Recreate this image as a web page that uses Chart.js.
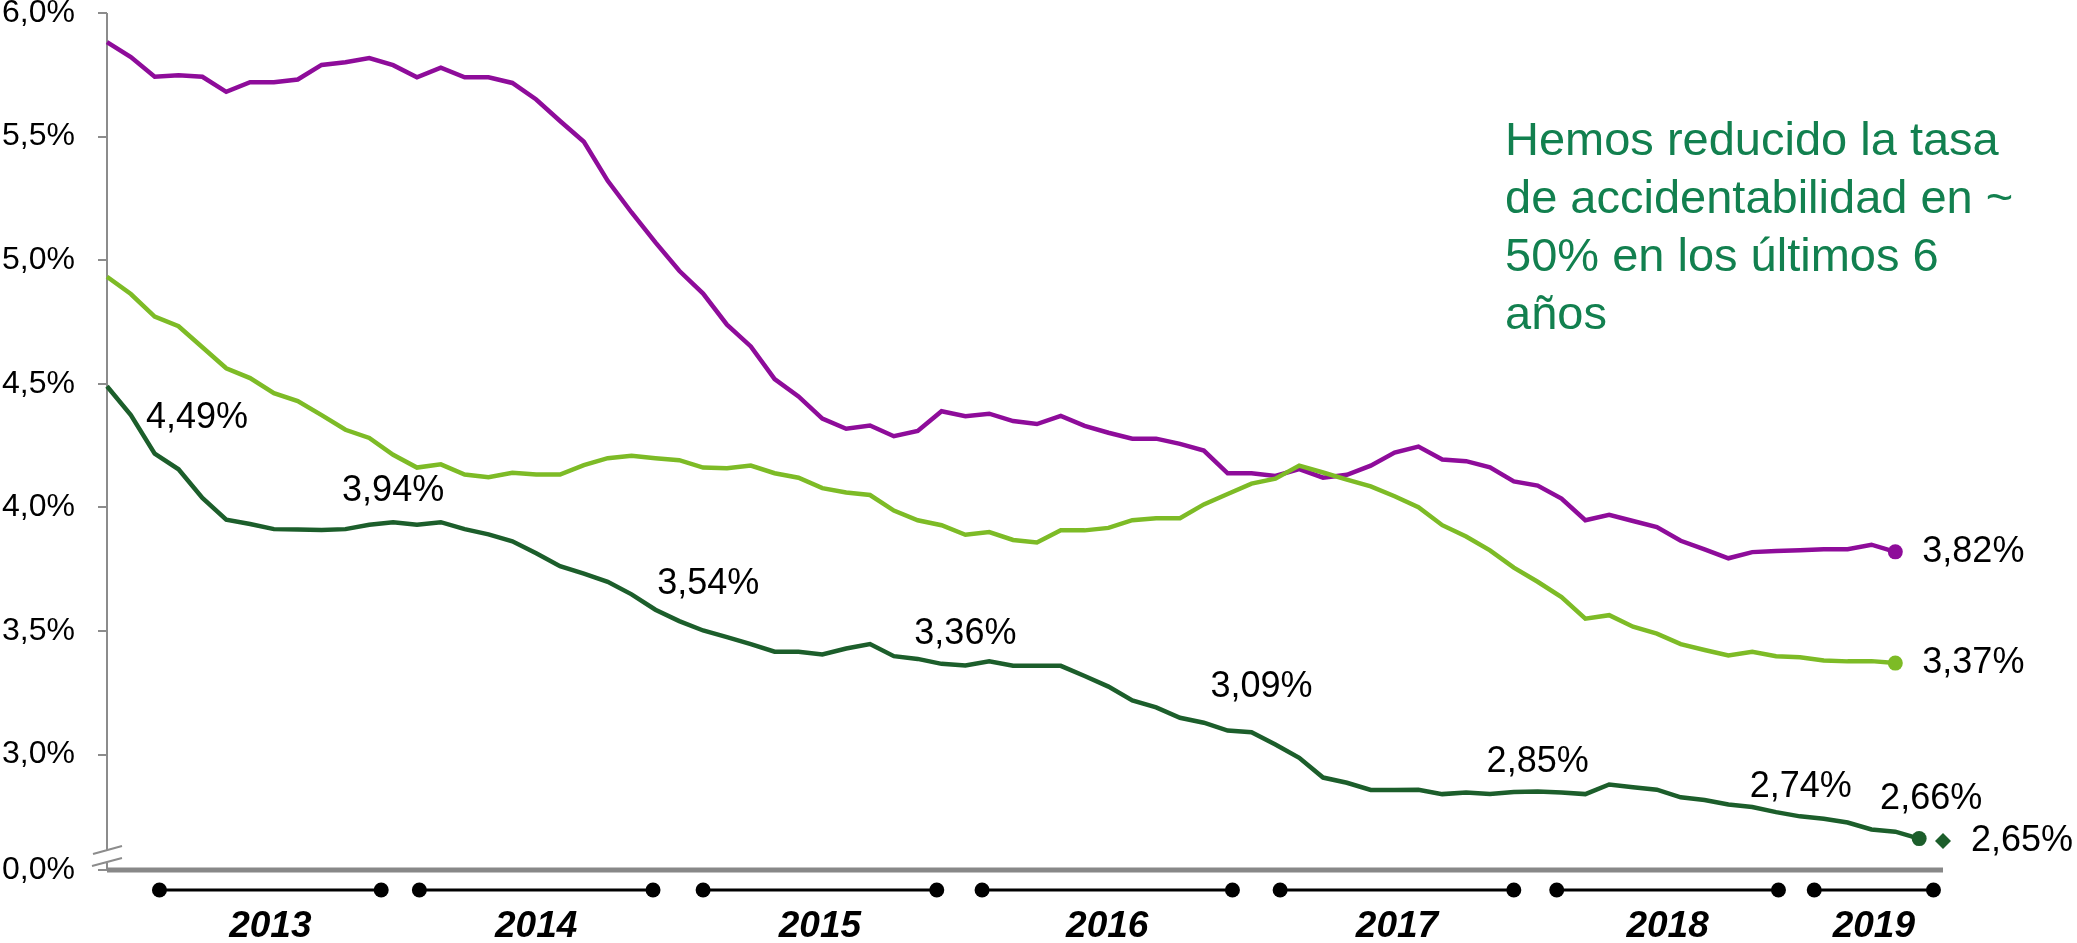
<!DOCTYPE html>
<html>
<head>
<meta charset="utf-8">
<script src="https://cdn.jsdelivr.net/npm/chart.js@4.4.1/dist/chart.umd.min.js"></script>
<style>
  html, body { margin: 0; padding: 0; background: #fff; }
  #wrap { position: relative; width: 2077px; height: 943px; }
  #note {
    position: absolute; left: 1505px; top: 110px;
    font: 47px/58px "Liberation Sans", Arial, sans-serif;
    color: #12804f; white-space: nowrap;
  }
</style>
</head>
<body>
<div id="wrap">
  <canvas id="chart" width="2077" height="943"></canvas>
  <div id="note">Hemos reducido la tasa<br>de accidentabilidad en ~<br>50% en los últimos 6<br>años</div>
</div>
<script>
// Monthly accident rate (%), first point = Dec 2012
const purpleRate = [5.882,5.822,5.742,5.748,5.742,5.681,5.720,5.720,5.731,5.790,
  5.801,5.818,5.789,5.740,5.779,5.740,5.740,5.717,5.650,5.563,
  5.479,5.321,5.193,5.072,4.957,4.865,4.739,4.651,4.519,4.449,
  4.359,4.318,4.331,4.288,4.309,4.389,4.369,4.379,4.349,4.337,
  4.370,4.330,4.302,4.278,4.278,4.257,4.230,4.138,4.138,4.127,
  4.155,4.120,4.132,4.169,4.222,4.246,4.194,4.187,4.162,4.105,
  4.088,4.036,3.948,3.970,3.945,3.920,3.865,3.830,3.794,3.819,
  3.824,3.827,3.831,3.831,3.849,3.820];

const lightGreenRate = [4.933,4.863,4.772,4.733,4.648,4.563,4.523,4.462,4.430,4.373,
  4.314,4.281,4.213,4.161,4.174,4.133,4.122,4.140,4.133,4.133,
  4.171,4.199,4.209,4.199,4.191,4.161,4.158,4.169,4.138,4.120,
  4.078,4.060,4.050,3.987,3.948,3.928,3.889,3.900,3.868,3.858,
  3.907,3.907,3.917,3.948,3.956,3.956,4.012,4.054,4.096,4.116,
  4.169,4.141,4.112,4.085,4.045,4.001,3.928,3.882,3.826,3.756,
  3.699,3.637,3.550,3.564,3.517,3.489,3.447,3.423,3.401,3.416,
  3.398,3.394,3.381,3.377,3.378,3.370];

const darkGreenRate = [4.490,4.373,4.217,4.154,4.038,3.950,3.933,3.912,3.910,3.908,
  3.912,3.930,3.940,3.930,3.940,3.912,3.891,3.863,3.814,3.762,
  3.732,3.699,3.648,3.586,3.540,3.502,3.475,3.447,3.416,3.416,
  3.405,3.429,3.447,3.398,3.387,3.367,3.360,3.377,3.359,3.359,
  3.359,3.318,3.275,3.219,3.191,3.149,3.129,3.097,3.090,3.041,
  2.987,2.907,2.886,2.857,2.857,2.858,2.840,2.847,2.840,2.849,
  2.851,2.847,2.840,2.879,2.868,2.858,2.827,2.816,2.798,2.788,
  2.767,2.750,2.740,2.725,2.697,2.688,2.660];

const targetRate = 2.65;            // diamond, one month after the last dark green point
const darkLabelIdx = [0, 12, 24, 36, 48, 60, 72, 76];

// y axis: broken axis, bottom tick stands for 0,0%
const axisBreakValue = 2.533;
const yTickValues = [axisBreakValue, 3.0, 3.5, 4.0, 4.5, 5.0, 5.5, 6.0];
const yTickLabels = ['0,0%', '3,0%', '3,5%', '4,0%', '4,5%', '5,0%', '5,5%', '6,0%'];

// year brackets under the axis, in month units
const years = ['2013', '2014', '2015', '2016', '2017', '2018', '2019'];
const yearFrom = [2.2, 13.1, 25.0, 36.7, 49.2, 60.8, 71.6];
const yearTo = [11.5, 22.9, 34.8, 47.2, 59.0, 70.1, 76.6];

const FONT = '"Liberation Sans", Arial, sans-serif';
const PURPLE = '#8e0c9a';
const LIGHT = '#7dbb26';
const DARK = '#1c5e2b';

const toPoints = arr => arr.map((v, i) => ({ x: i, y: v }));
const fmt = v => v.toFixed(2).replace('.', ',') + '%';
const lastDot = arr => ctx => (ctx.dataIndex === arr.length - 1 ? 7.5 : 0);

// label offsets (px) from their point, centred text
const darkLabelOffsets = [[90, 32], [0, -31], [29, -37], [0, -31], [10, -45], [0, -29], [-23, -32], [12, -40]];

const decor = {
  id: 'decor',
  beforeDatasetsDraw(chart) {
    const { ctx, chartArea: a } = chart;
    ctx.save();
    // y axis line with a break near the bottom
    ctx.strokeStyle = '#8c8c8c';
    ctx.lineWidth = 2;
    ctx.beginPath();
    ctx.moveTo(a.left, a.top);
    ctx.lineTo(a.left, a.bottom - 20);
    ctx.moveTo(a.left, a.bottom - 8);
    ctx.lineTo(a.left, a.bottom);
    ctx.moveTo(a.left - 14, a.bottom - 16);
    ctx.lineTo(a.left + 15, a.bottom - 24);
    ctx.moveTo(a.left - 15, a.bottom - 4);
    ctx.lineTo(a.left + 15, a.bottom - 12);
    ctx.stroke();
    // thick x axis
    ctx.strokeStyle = '#888888';
    ctx.lineWidth = 5;
    ctx.beginPath();
    ctx.moveTo(a.left, a.bottom);
    ctx.lineTo(a.right, a.bottom);
    ctx.stroke();
    ctx.restore();
  },
  afterDatasetsDraw(chart) {
    const { ctx, chartArea: a, scales: { x, y } } = chart;
    ctx.save();

    // year brackets
    const by = a.bottom + 20;
    ctx.strokeStyle = '#000';
    ctx.fillStyle = '#000';
    ctx.lineWidth = 3;
    years.forEach((yr, i) => {
      const x0 = x.getPixelForValue(yearFrom[i]);
      const x1 = x.getPixelForValue(yearTo[i]);
      ctx.beginPath();
      ctx.moveTo(x0, by);
      ctx.lineTo(x1, by);
      ctx.stroke();
      [x0, x1].forEach(px => {
        ctx.beginPath();
        ctx.arc(px, by, 7.5, 0, Math.PI * 2);
        ctx.fill();
      });
      ctx.font = 'italic bold 37px ' + FONT;
      ctx.textAlign = 'center';
      ctx.textBaseline = 'middle';
      ctx.fillText(yr, (x0 + x1) / 2, a.bottom + 57);
    });

    // value labels
    ctx.font = '36px ' + FONT;
    ctx.fillStyle = '#000';
    ctx.textBaseline = 'middle';
    ctx.textAlign = 'center';
    darkLabelIdx.forEach((idx, k) => {
      const px = x.getPixelForValue(idx);
      const py = y.getPixelForValue(darkGreenRate[idx]);
      ctx.fillText(fmt(darkGreenRate[idx]), px + darkLabelOffsets[k][0], py + darkLabelOffsets[k][1]);
    });
    ctx.textAlign = 'left';
    [purpleRate, lightGreenRate].forEach(arr => {
      const i = arr.length - 1;
      ctx.fillText(fmt(arr[i]), x.getPixelForValue(i) + 27, y.getPixelForValue(arr[i]));
    });
    ctx.fillText(fmt(targetRate), x.getPixelForValue(darkGreenRate.length) + 28, y.getPixelForValue(targetRate));
    ctx.restore();
  }
};

new Chart(document.getElementById('chart'), {
  type: 'line',
  data: {
    datasets: [
      {
        data: toPoints(darkGreenRate),
        borderColor: DARK, backgroundColor: DARK, borderWidth: 4.5, clip: false,
        pointRadius: lastDot(darkGreenRate), pointBorderWidth: 0, pointBackgroundColor: DARK
      },
      {
        data: [{ x: darkGreenRate.length, y: targetRate }],
        showLine: false, pointStyle: 'rectRot', pointRadius: 8, clip: false,
        pointBackgroundColor: DARK, pointBorderWidth: 0, borderColor: DARK
      },
      {
        data: toPoints(lightGreenRate),
        borderColor: LIGHT, backgroundColor: LIGHT, borderWidth: 4.5, clip: false,
        pointRadius: lastDot(lightGreenRate), pointBorderWidth: 0, pointBackgroundColor: LIGHT
      },
      {
        data: toPoints(purpleRate),
        borderColor: PURPLE, backgroundColor: PURPLE, borderWidth: 4.5, clip: false,
        pointRadius: lastDot(purpleRate), pointBorderWidth: 0, pointBackgroundColor: PURPLE
      }
    ]
  },
  options: {
    responsive: false,
    animation: false,
    devicePixelRatio: 1,
    layout: { padding: { left: 0, right: 134, top: 0, bottom: 73 } },
    plugins: { legend: { display: false }, tooltip: { enabled: false } },
    elements: { line: { tension: 0 } },
    scales: {
      x: { type: 'linear', min: 0, max: 77, display: false },
      y: {
        min: axisBreakValue,
        max: 6.0,
        afterBuildTicks: s => { s.ticks = yTickValues.map(v => ({ value: v })); },
        afterFit: s => { s.width = 107; s.paddingTop = 13; s.paddingBottom = 0; },
        ticks: {
          autoSkip: false,
          padding: 23,
          color: '#000',
          font: { size: 32, family: FONT },
          callback: (v, i) => yTickLabels[i]
        },
        grid: { drawOnChartArea: false, drawTicks: true, tickLength: 9, color: '#8c8c8c', lineWidth: 2 },
        border: { display: false }
      }
    }
  },
  plugins: [decor]
});
</script>
</body>
</html>
